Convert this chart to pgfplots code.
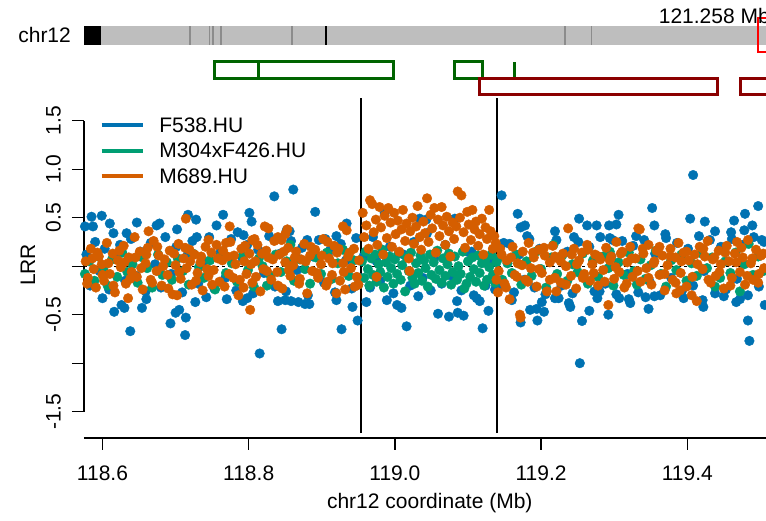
\documentclass[border=0pt]{standalone}
\usepackage{fontspec}
\setmainfont{Liberation Sans}
\usepackage{pgfplots}
\pgfplotsset{compat=1.18}
\definecolor{cBlue}{RGB}{0,114,178}
\definecolor{cGreen}{RGB}{0,158,115}
\definecolor{cOrange}{RGB}{213,94,0}
\definecolor{ideo}{RGB}{190,190,190}
\definecolor{band}{RGB}{140,140,140}
\definecolor{gGreen}{RGB}{0,100,0}
\definecolor{gRed}{RGB}{139,0,0}
\newcommand\fs{\fontsize{21}{25}\selectfont}
\begin{document}
\begin{tikzpicture}
\useasboundingbox (0,0) rectangle (766pt,521pt);
\clip (0,0) rectangle (766pt,521pt);
\begin{axis}[
 scale only axis, width=682pt, height=340pt,
 anchor=south west, at={(84pt,83pt)},
 xmin=118.5747, xmax=119.5077, ymin=-1.771, ymax=1.734,
 axis lines*=left, axis line style={draw=none},
 clip=false,
 xtick={118.6,118.8,119.0,119.2,119.4},
 xticklabels={118.6,118.8,119.0,119.2,119.4},
 ytick={-1.5,-1,-0.5,0,0.5,1,1.5},
 yticklabels={-1.5,,-0.5,,0.5,1.0,1.5},
 tick align=outside, major tick length=12pt,
 tick style={black, line width=1.3pt},
 xticklabel style={font=\fs, anchor=north, inner sep=0pt},
 xticklabel shift=16pt,
 yticklabel style={font=\fs, rotate=90, anchor=south, inner sep=0pt},
 yticklabel shift=11pt,
 xlabel={chr12 coordinate (Mb)}, ylabel={LRR},
 xlabel style={font=\fs, at={(axis description cs:0.507,-0.191)}, anchor=center},
 ylabel style={font=\fs, at={(axis description cs:-0.0821,0.509)}, anchor=center},
 legend cell align=left,
 legend image code/.code={\draw[#1] (0pt,-0.5pt) -- (41.6pt,-0.5pt); \path[draw=none,fill=none] (0pt,0pt) rectangle (41.6pt,15pt);},
 legend style={draw=none, fill=none, at={(axis description cs:0.023,0.966)}, anchor=north west,
   inner sep=0pt, outer sep=0pt, row sep=3pt, font=\fs,
   nodes={inner sep=0pt, text height=15pt, text depth=0pt},
   /tikz/every odd column/.append style={column sep=14pt}},
]
\addlegendimage{line width=4pt, cBlue}
\addlegendentry{F538.HU}
\addlegendimage{line width=4pt, cGreen}
\addlegendentry{M304xF426.HU}
\addlegendimage{line width=4pt, cOrange}
\addlegendentry{M689.HU}

% ideogram and gene tracks
\fill[ideo] (axis cs:118.5747,2.284) rectangle (axis cs:119.53,2.476);
\fill[black] (axis cs:118.5747,2.284) rectangle (axis cs:118.5975,2.476);
\draw[band, line width=1.2pt] (axis cs:118.7197,2.284) -- (axis cs:118.7197,2.476);
\draw[band, line width=1.2pt] (axis cs:118.7464,2.284) -- (axis cs:118.7464,2.476);
\draw[band, line width=1.2pt] (axis cs:118.7512,2.284) -- (axis cs:118.7512,2.476);
\draw[band, line width=1.2pt] (axis cs:118.7621,2.284) -- (axis cs:118.7621,2.476);
\draw[band, line width=1.2pt] (axis cs:118.8592,2.284) -- (axis cs:118.8592,2.476);
\draw[band, line width=1.2pt] (axis cs:119.2327,2.284) -- (axis cs:119.2327,2.476);
\draw[band, line width=1.2pt] (axis cs:119.2691,2.284) -- (axis cs:119.2691,2.476);
\draw[black, line width=2pt] (axis cs:118.9055,2.284) -- (axis cs:118.9055,2.476);
\draw[red, line width=2.5pt] (axis cs:119.4967,2.208) rectangle (axis cs:119.5131,2.559);
\node[font=\fs, anchor=base east, inner sep=0pt] at (axis cs:119.5131,2.497) {121.258 Mb};
\node[font=\fs, anchor=east, inner sep=0pt] at (axis cs:118.5570,2.38) {chr12};
\draw[gGreen, line width=3pt] (axis cs:118.7539,1.937) rectangle (axis cs:118.9978,2.108);
\draw[gGreen, line width=3pt] (axis cs:118.8131,1.937) -- (axis cs:118.8131,2.108);
\draw[gGreen, line width=3pt] (axis cs:119.0822,1.937) rectangle (axis cs:119.1201,2.108);
\draw[gGreen, line width=3pt] (axis cs:119.1633,1.937) -- (axis cs:119.1633,2.108);
\draw[gRed, line width=3pt] (axis cs:119.1155,1.765) rectangle (axis cs:119.4410,1.937);
\draw[gRed, line width=3pt] (axis cs:119.4730,1.765) rectangle (axis cs:119.5405,1.937);

% axis lines
\draw[black, line width=1.3pt] (axis cs:118.5747,-1.5) -- (axis cs:118.5747,1.5);
\draw[black, line width=1.3pt] (axis cs:118.5747,-1.771) -- (axis cs:119.53,-1.771);
\draw[black, dashed, line width=0.8pt] (axis cs:118.5747,0) -- (axis cs:119.53,0);

% F538.HU
\addplot[forget plot, only marks, mark=*, mark size=4.8pt, cBlue, mark options={draw=none, fill=cBlue}] coordinates {
(118.578,0.12) (118.583,-0.20) (118.590,0.25) (118.596,-0.05) (118.603,0.18) (118.609,-0.24) (118.618,0.08) (118.624,0.22) (118.631,-0.15) (118.639,0.28) (118.646,-0.10) (118.652,0.15) (118.659,-0.26) (118.666,0.24) (118.672,0.02) (118.680,-0.22) (118.686,0.30) (118.694,-0.08) (118.701,0.20) (118.709,-0.27) (118.716,0.11) (118.723,0.26) (118.731,-0.18) (118.738,0.05) (118.746,0.30) (118.753,-0.23) (118.761,0.14) (118.768,-0.12) (118.776,0.28) (118.783,-0.25) (118.791,0.09) (118.798,0.22) (118.806,-0.28) (118.813,0.17) (118.821,-0.07) (118.828,0.31) (118.836,-0.21) (118.843,0.13) (118.851,-0.26) (118.858,0.26) (118.866,-0.04) (118.873,0.19) (118.881,-0.30) (118.888,0.10) (118.896,0.27) (118.903,-0.17) (118.911,0.16) (118.918,-0.27) (118.926,0.23) (118.933,0.06) (118.941,-0.23) (118.947,0.29) (118.952,-0.12)
(118.585,0.51) (118.599,0.52) (118.576,0.41) (118.587,0.41) (118.610,0.44) (118.647,0.45) (118.674,0.42) (118.678,0.44) (118.702,0.38) (118.717,0.53) (118.728,0.48) (118.765,0.53) (118.756,0.42) (118.801,0.55) (118.804,0.46) (118.852,0.37) (118.934,0.44) (118.861,0.79) (118.835,0.72) (118.891,0.56) (118.615,0.34) (118.633,0.34) (118.729,0.30) (118.793,0.32) (118.785,0.35) (118.856,0.36) (118.880,0.27) (118.905,0.28) (118.920,0.31)
(118.815,-0.90) (118.638,-0.67) (118.713,-0.71) (118.693,-0.59) (118.845,-0.65) (118.927,-0.65) (118.949,-0.56) (118.616,-0.47) (118.626,-0.40) (118.630,-0.43) (118.654,-0.43) (118.714,-0.53) (118.705,-0.45) (118.700,-0.48) (118.942,-0.42) (118.727,-0.37) (118.792,-0.36) (118.798,-0.33) (118.840,-0.36) (118.850,-0.35) (118.858,-0.36) (118.868,-0.37) (118.877,-0.39) (118.883,-0.39) (118.600,-0.33) (118.660,-0.34) (118.742,-0.32) (118.770,-0.34) (118.920,-0.35)
(118.957,0.10) (118.961,-0.37) (118.966,-0.22) (118.970,0.30) (118.975,0.05) (118.980,-0.15) (118.986,0.55) (118.989,-0.35) (118.993,0.20) (118.998,-0.28) (119.003,-0.40) (119.009,-0.43) (119.012,0.12) (119.016,-0.62) (119.021,-0.20) (119.026,0.25) (119.032,-0.31) (119.034,0.49) (119.038,-0.12) (119.043,0.48) (119.044,0.34) (119.049,-0.25) (119.054,0.08) (119.059,-0.49) (119.064,-0.18) (119.069,0.22) (119.074,-0.52) (119.078,-0.10) (119.082,0.49) (119.085,-0.36) (119.086,-0.48) (119.091,-0.25) (119.094,-0.51) (119.099,0.15) (119.105,0.15) (119.108,-0.30) (119.112,-0.33) (119.116,-0.36) (119.120,-0.64) (119.124,-0.20) (119.128,-0.46) (119.133,0.05) (119.137,-0.24)
(119.143,-0.20) (119.149,0.24) (119.157,0.23) (119.163,-0.27) (119.170,0.12) (119.177,-0.14) (119.184,0.28) (119.191,-0.22) (119.198,0.18) (119.206,-0.29) (119.213,0.08) (119.221,0.27) (119.228,-0.20) (119.236,0.15) (119.243,-0.28) (119.251,0.25) (119.258,-0.10) (119.266,0.20) (119.273,-0.26) (119.281,0.30) (119.288,-0.18) (119.296,0.10) (119.303,-0.29) (119.311,0.26) (119.318,-0.08) (119.326,0.21) (119.333,-0.27) (119.341,0.27) (119.348,-0.15) (119.356,0.13) (119.363,-0.30) (119.371,0.29) (119.378,-0.12) (119.386,0.24) (119.393,-0.25) (119.401,0.18) (119.408,-0.20) (119.416,0.31) (119.423,-0.05) (119.431,0.27) (119.438,-0.28) (119.446,0.20) (119.453,-0.24) (119.461,0.28) (119.468,-0.13) (119.476,0.22) (119.483,-0.30) (119.491,0.30) (119.498,-0.21) (119.505,0.25)
(119.146,0.73) (119.168,0.54) (119.172,0.40) (119.178,0.42) (119.181,0.31) (119.219,0.36) (119.252,0.49) (119.263,0.42) (119.276,0.42) (119.293,0.42) (119.306,0.53) (119.303,0.43) (119.294,0.29) (119.298,0.27) (119.352,0.60) (119.355,0.42) (119.408,0.94) (119.404,0.49) (119.424,0.46) (119.438,0.36) (119.460,0.35) (119.464,0.47) (119.479,0.54) (119.478,0.37) (119.489,0.42) (119.497,0.62) (119.502,0.27) (119.245,0.30) (119.330,0.31) (119.370,0.33)
(119.253,-1.00) (119.485,-0.77) (119.483,-0.56) (119.256,-0.565) (119.172,-0.58) (119.195,-0.56) (119.185,-0.45) (119.194,-0.44) (119.204,-0.47) (119.201,-0.37) (119.219,-0.33) (119.224,-0.33) (119.240,-0.42) (119.238,-0.38) (119.266,-0.46) (119.277,-0.33) (119.280,-0.26) (119.292,-0.50) (119.307,-0.33) (119.320,-0.34) (119.322,-0.38) (119.347,-0.44) (119.343,-0.32) (119.355,-0.31) (119.422,-0.42) (119.421,-0.35) (119.467,-0.37) (119.472,-0.34) (119.506,-0.40) (119.160,-0.35) (119.395,-0.33) (119.450,-0.31)
};

% M304xF426.HU
\addplot[forget plot, only marks, mark=*, mark size=4.8pt, cGreen, mark options={draw=none, fill=cGreen}] coordinates {
(118.576,-0.08) (118.582,0.05) (118.589,-0.15) (118.594,0.10) (118.601,-0.03) (118.607,-0.20) (118.613,0.07) (118.620,-0.11) (118.627,0.14) (118.634,-0.06) (118.641,0.02) (118.648,-0.17) (118.655,0.09) (118.661,-0.02) (118.668,-0.22) (118.676,0.12) (118.682,-0.09) (118.688,0.04) (118.695,-0.14) (118.703,0.08) (118.710,-0.05) (118.718,-0.19) (118.724,0.13) (118.732,-0.01) (118.739,-0.12) (118.747,0.06) (118.754,-0.24) (118.762,0.10) (118.769,-0.07) (118.777,0.03) (118.784,-0.16) (118.792,0.11) (118.799,-0.04) (118.807,-0.21) (118.814,0.08) (118.819,0.00) (118.825,-0.20) (118.830,-0.10) (118.837,0.12) (118.844,-0.06) (118.852,0.05) (118.857,0.22) (118.862,-0.15) (118.870,0.07) (118.877,-0.03) (118.884,-0.18) (118.892,0.09) (118.899,-0.08) (118.907,0.14) (118.914,-0.13) (118.922,0.03) (118.929,0.17) (118.937,-0.10) (118.944,0.06) (118.950,-0.19)
(118.955,0.05) (118.958,-0.12) (118.960,0.15) (118.963,-0.03) (118.965,-0.20) (118.968,0.08) (118.970,-0.09) (118.973,0.12) (118.975,-0.16) (118.978,0.02) (118.980,-0.06) (118.983,0.17) (118.985,-0.22) (118.988,0.04) (118.990,-0.11) (118.993,0.10) (118.995,-0.02) (118.998,-0.18) (119.000,0.07) (119.003,-0.08) (119.005,0.13) (119.008,-0.14) (119.010,0.01) (119.014,-0.26) (119.016,0.09) (119.019,-0.05) (119.022,0.14) (119.024,-0.12) (119.027,-0.18) (119.029,0.03) (119.032,-0.07) (119.035,0.11) (119.037,-0.15) (119.040,0.06) (119.042,-0.02) (119.045,-0.21) (119.048,0.12) (119.050,-0.09) (119.053,0.04) (119.056,-0.13) (119.058,0.16) (119.061,-0.04) (119.064,-0.17) (119.066,0.08) (119.069,-0.10) (119.072,0.02) (119.074,0.13) (119.077,-0.19) (119.079,-0.06) (119.082,0.10) (119.085,-0.14) (119.087,0.00) (119.090,-0.08) (119.093,0.15) (119.095,-0.23) (119.098,-0.18) (119.100,0.05) (119.103,-0.11) (119.106,0.09) (119.108,-0.03) (119.111,-0.16) (119.114,0.11) (119.116,-0.07) (119.119,0.03) (119.122,-0.20) (119.124,0.07) (119.126,-0.14) (119.129,-0.01) (119.132,0.12) (119.134,-0.09) (119.137,-0.17) (119.139,0.04)
(119.141,0.08) (119.147,-0.14) (119.154,0.03) (119.160,-0.07) (119.166,0.12) (119.173,-0.19) (119.180,0.05) (119.187,-0.10) (119.193,0.15) (119.200,-0.03) (119.207,-0.22) (119.214,0.09) (119.217,0.22) (119.222,-0.08) (119.229,0.11) (119.236,-0.15) (119.243,0.02) (119.250,-0.06) (119.257,0.13) (119.264,-0.18) (119.271,0.06) (119.278,-0.11) (119.285,0.10) (119.292,-0.02) (119.294,0.15) (119.299,-0.20) (119.306,0.04) (119.313,-0.09) (119.320,0.14) (119.327,-0.05) (119.331,-0.19) (119.336,0.07) (119.343,-0.13) (119.350,0.01) (119.357,0.16) (119.364,-0.08) (119.371,-0.21) (119.378,0.06) (119.385,-0.04) (119.392,0.12) (119.399,-0.15) (119.406,0.03) (119.413,-0.10) (119.420,0.13) (119.427,-0.02) (119.434,0.09) (119.438,-0.21) (119.445,-0.12) (119.452,0.05) (119.459,-0.07) (119.466,0.14) (119.472,-0.26) (119.478,0.02) (119.484,0.23) (119.490,-0.09) (119.497,0.10) (119.504,-0.05)
};

% M689.HU
\addplot[forget plot, only marks, mark=*, mark size=4.8pt, cOrange, mark options={draw=none, fill=cOrange}] coordinates {
(118.577,0.05) (118.580,-0.12) (118.584,0.18) (118.588,-0.03) (118.591,-0.22) (118.595,0.10) (118.599,0.02) (118.602,-0.15) (118.606,0.24) (118.610,-0.08) (118.614,0.13) (118.617,-0.27) (118.621,0.06) (118.625,-0.01) (118.629,0.21) (118.632,-0.18) (118.636,0.09) (118.640,-0.06) (118.644,0.30) (118.647,-0.11) (118.651,0.15) (118.655,-0.24) (118.659,0.03) (118.662,0.19) (118.666,-0.14) (118.670,0.26) (118.674,-0.05) (118.677,0.11) (118.681,-0.20) (118.685,0.07) (118.689,-0.09) (118.692,0.16) (118.696,-0.29) (118.700,0.01) (118.704,0.23) (118.707,-0.13) (118.711,0.08) (118.715,-0.02) (118.719,0.17) (118.722,-0.19) (118.726,0.12) (118.730,-0.07) (118.734,0.04) (118.737,-0.25) (118.741,0.20) (118.745,-0.10) (118.749,0.14) (118.752,-0.04) (118.756,0.22) (118.760,-0.16) (118.764,0.06) (118.767,-0.21) (118.771,0.10) (118.775,0.25) (118.779,-0.12) (118.782,0.02) (118.786,-0.30) (118.790,0.18) (118.794,0.05) (118.797,-0.08) (118.801,0.13) (118.805,-0.17) (118.809,0.05) (118.812,0.22) (118.816,-0.26) (118.820,-0.03) (118.824,0.16) (118.827,0.09) (118.831,-0.14) (118.835,0.26) (118.839,-0.06) (118.842,0.12) (118.846,-0.23) (118.850,0.04) (118.854,0.19) (118.857,-0.10) (118.861,0.01) (118.865,0.15) (118.869,-0.18) (118.872,0.07) (118.876,0.23) (118.880,-0.28) (118.884,0.11) (118.887,-0.05) (118.891,0.17) (118.895,-0.12) (118.899,0.02) (118.902,0.28) (118.906,-0.20) (118.910,0.08) (118.914,-0.09) (118.917,0.21) (118.921,0.14) (118.925,-0.15) (118.929,0.03) (118.932,-0.24) (118.936,0.10) (118.940,-0.02) (118.944,0.18) (118.948,-0.11)
(118.579,-0.18) (118.586,0.08) (118.593,0.14) (118.600,-0.09) (118.608,0.03) (118.615,-0.20) (118.623,0.16) (118.630,0.04) (118.638,-0.13) (118.645,0.09) (118.653,-0.02) (118.660,0.12) (118.668,-0.17) (118.675,0.20) (118.683,0.00) (118.690,-0.23) (118.698,0.13) (118.705,-0.06) (118.713,0.19) (118.720,0.05) (118.728,-0.15) (118.735,0.10) (118.743,-0.03) (118.750,-0.19) (118.758,0.08) (118.765,0.16) (118.773,-0.08) (118.780,0.11) (118.788,-0.14) (118.795,0.21) (118.803,0.02) (118.810,-0.11) (118.818,0.13) (118.825,-0.05) (118.833,0.07) (118.840,-0.20) (118.848,0.15) (118.855,-0.04) (118.863,0.09) (118.870,-0.13) (118.878,0.05) (118.885,0.20) (118.893,-0.07) (118.900,0.11) (118.908,-0.16) (118.915,0.03) (118.923,0.18) (118.930,-0.06) (118.938,0.14) (118.945,-0.21) (118.951,0.06)
(118.714,0.49) (118.774,0.41) (118.822,0.41) (118.827,0.39) (118.850,0.33) (118.853,0.38) (118.805,0.27) (118.802,-0.45) (118.663,0.36) (118.929,0.41) (118.934,0.37) (118.635,-0.33) (118.702,-0.30) (118.793,-0.22) (118.920,-0.28) (118.950,-0.19) (118.745,0.27) (118.769,0.24) (118.808,0.28) (118.908,0.25) (118.840,0.30) (118.845,0.27)
(118.956,0.55) (118.958,0.30) (118.961,0.42) (118.964,0.18) (118.966,0.68) (118.969,0.64) (118.971,0.35) (118.974,0.48) (118.976,0.22) (118.979,0.61) (118.981,0.40) (118.984,0.12) (118.986,0.52) (118.989,0.29) (118.991,0.60) (118.994,0.45) (118.996,0.20) (118.999,0.55) (119.001,0.33) (119.004,0.47) (119.006,0.15) (119.009,0.38) (119.011,0.58) (119.014,0.26) (119.016,0.44) (119.019,0.08) (119.021,0.36) (119.024,0.50) (119.026,0.23) (119.029,0.41) (119.031,0.62) (119.034,0.30) (119.036,0.17) (119.039,0.46) (119.041,0.34) (119.044,0.70) (119.046,0.25) (119.049,0.53) (119.051,0.39) (119.054,0.60) (119.056,0.14) (119.059,0.48) (119.061,0.31) (119.064,0.61) (119.066,0.42) (119.069,0.22) (119.071,0.51) (119.074,0.36) (119.076,0.10) (119.079,0.45) (119.081,0.28) (119.084,0.41) (119.086,0.77) (119.089,0.50) (119.091,0.73) (119.094,0.35) (119.096,0.19) (119.099,0.56) (119.101,0.43) (119.104,0.27) (119.106,0.58) (119.109,0.38) (119.111,0.46) (119.114,0.21) (119.116,0.33) (119.119,0.49) (119.121,0.12) (119.124,0.40) (119.126,0.28) (119.129,0.58) (119.131,0.36) (119.134,0.18) (119.136,0.31) (119.138,0.24)
(118.975,-0.11) (119.020,-0.05) (119.139,-0.14) (119.141,-0.27)
(119.142,-0.05) (119.146,0.12) (119.150,-0.18) (119.153,0.06) (119.157,-0.34) (119.161,0.20) (119.164,-0.09) (119.168,0.03) (119.172,-0.53) (119.175,0.15) (119.179,-0.14) (119.183,0.24) (119.186,-0.02) (119.190,0.09) (119.194,-0.21) (119.197,0.17) (119.201,-0.07) (119.205,0.11) (119.208,-0.26) (119.212,0.04) (119.216,0.21) (119.219,-0.12) (119.223,0.08) (119.227,-0.17) (119.230,0.13) (119.234,0.00) (119.237,0.39) (119.241,-0.10) (119.245,0.18) (119.248,-0.23) (119.252,0.06) (119.256,0.14) (119.259,-0.08) (119.263,0.22) (119.267,-0.15) (119.270,0.02) (119.274,0.12) (119.278,-0.20) (119.281,0.07) (119.285,-0.04) (119.289,0.19) (119.292,-0.40) (119.296,0.10) (119.300,-0.13) (119.303,0.25) (119.307,-0.06) (119.311,0.15) (119.314,-0.22) (119.318,0.04) (119.322,0.20) (119.325,-0.11) (119.329,0.08) (119.333,0.39) (119.336,-0.16) (119.340,0.13) (119.344,-0.02) (119.347,0.22) (119.351,-0.19) (119.355,0.05) (119.358,0.16) (119.362,-0.09) (119.366,0.11) (119.369,-0.25) (119.373,0.01) (119.377,0.18) (119.380,-0.14) (119.384,0.09) (119.388,0.24) (119.391,-0.07) (119.395,0.14) (119.399,-0.21) (119.402,0.06) (119.406,-0.30) (119.410,0.12) (119.413,-0.36) (119.417,0.20) (119.421,-0.03) (119.424,0.10) (119.428,0.26) (119.432,-0.17) (119.435,0.07) (119.439,-0.10) (119.443,0.16) (119.446,0.02) (119.450,-0.23) (119.454,0.21) (119.457,0.05) (119.461,-0.12) (119.465,0.13) (119.468,0.25) (119.472,-0.06) (119.476,0.09) (119.479,-0.19) (119.483,0.27) (119.487,0.03) (119.490,-0.14) (119.494,0.17) (119.498,-0.08) (119.501,0.11) (119.505,-0.02)
(119.144,0.18) (119.152,-0.22) (119.159,0.09) (119.167,-0.11) (119.174,0.01) (119.182,-0.16) (119.189,0.14) (119.197,-0.03) (119.204,0.19) (119.212,-0.14) (119.219,0.10) (119.227,0.05) (119.234,-0.19) (119.242,0.12) (119.249,0.02) (119.257,-0.12) (119.264,0.17) (119.272,-0.07) (119.279,0.10) (119.287,-0.16) (119.294,0.06) (119.302,-0.01) (119.309,0.13) (119.317,-0.18) (119.324,0.08) (119.332,-0.05) (119.339,0.18) (119.347,-0.12) (119.354,0.03) (119.362,0.20) (119.369,-0.08) (119.377,0.10) (119.384,-0.17) (119.392,0.05) (119.399,0.15) (119.407,-0.11) (119.414,0.02) (119.422,0.18) (119.429,-0.14) (119.437,0.09) (119.444,-0.06) (119.452,0.14) (119.459,-0.20) (119.467,0.04) (119.474,0.19) (119.482,-0.10) (119.489,0.08) (119.497,-0.17) (119.504,0.13)
(119.335,0.38) (119.221,-0.26) (119.385,-0.28) (119.390,-0.25) (119.171,-0.50)
};

% region boundaries
\draw[black, line width=2pt] (axis cs:118.9543,-1.72) -- (axis cs:118.9543,1.734);
\draw[black, line width=2pt] (axis cs:119.1397,-1.72) -- (axis cs:119.1397,1.734);
\end{axis}
\end{tikzpicture}
\end{document}
